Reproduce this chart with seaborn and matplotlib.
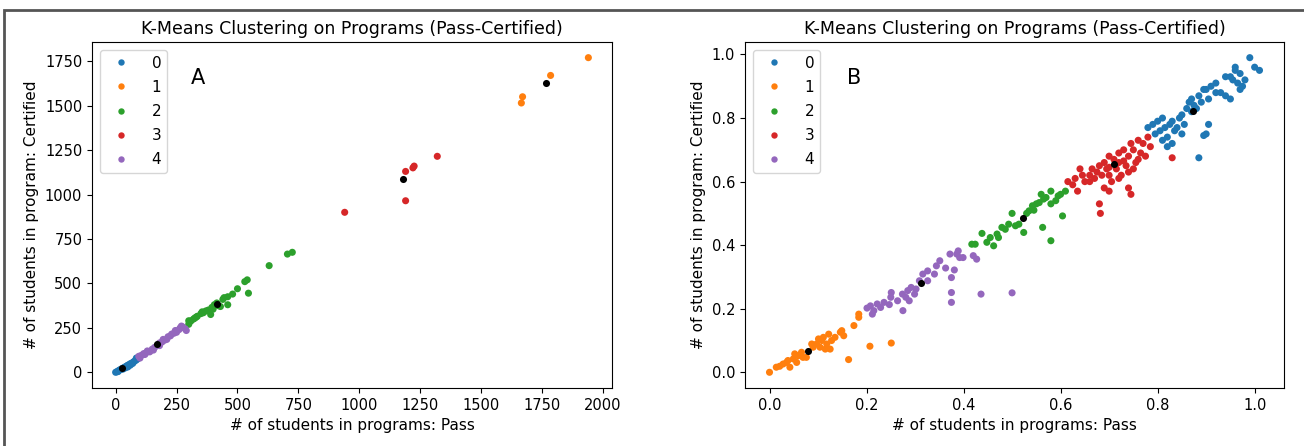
import matplotlib
matplotlib.use("Agg")
import matplotlib.pyplot as plt
import seaborn as sns
import pandas as pd
from matplotlib.patches import Rectangle

# ---------------- Panel A (raw counts) ----------------
a0_pass = [0, 5, 10, 15, 20, 25, 30, 35, 40, 45, 50, 55, 60, 65, 70, 75, 80, 85, 90, 40, 60, 70, 50, 30, 85, 10]
a0_cert = [0, 3, 7, 12, 15, 20, 22, 28, 30, 35, 40, 42, 48, 50, 55, 60, 65, 70, 75, 25, 40, 50, 30, 18, 80, 4]
a1_pass = [1665, 1670, 1785, 1940]
a1_cert = [1515, 1550, 1670, 1770]
a2_pass = [300, 305, 310, 320, 330, 335, 355, 370, 380, 390, 395, 405, 415, 420, 430, 440, 445, 460, 460, 480,
           500, 530, 540, 545, 630, 705, 725, 300, 325, 350, 400, 360]
a2_cert = [270, 285, 290, 300, 310, 315, 340, 345, 350, 325, 365, 380, 390, 375, 370, 410, 420, 380, 425, 440,
           470, 510, 520, 445, 600, 665, 675, 290, 305, 330, 355, 335]
a3_pass = [940, 1190, 1190, 1220, 1225, 1320]
a3_cert = [900, 1130, 965, 1150, 1160, 1215]
a4_pass = [95, 105, 115, 125, 130, 140, 150, 160, 170, 180, 190, 200, 210, 215, 225, 230, 240, 250, 260, 265,
           275, 285, 290, 270, 120, 100, 155, 195, 245, 180]
a4_cert = [90, 95, 105, 110, 120, 115, 130, 140, 150, 165, 170, 180, 185, 200, 205, 215, 220, 225, 240, 250,
           255, 245, 235, 260, 100, 80, 125, 185, 235, 150]
a_cent_pass = [25, 1765, 415, 1180, 170]
a_cent_cert = [22, 1625, 382, 1085, 158]

# ---------------- Panel B (normalised) ----------------
b0_pass = [0.78, 0.79, 0.795, 0.80, 0.805, 0.81, 0.815, 0.82, 0.82, 0.825, 0.83, 0.835, 0.84, 0.845, 0.85, 0.855,
           0.86, 0.865, 0.87, 0.875, 0.88, 0.885, 0.89, 0.895, 0.90, 0.905, 0.91, 0.92, 0.93, 0.94, 0.95, 0.955,
           0.96, 0.965, 0.97, 0.975, 0.98, 0.99, 1.00, 1.01, 0.95, 0.96, 0.885, 0.90, 0.905, 0.895, 0.85, 0.83,
           0.81, 0.87, 0.92, 0.97, 0.94]
b0_cert = [0.77, 0.78, 0.75, 0.79, 0.76, 0.80, 0.77, 0.74, 0.71, 0.78, 0.79, 0.76, 0.77, 0.80, 0.81, 0.78,
           0.83, 0.85, 0.86, 0.84, 0.83, 0.87, 0.85, 0.89, 0.89, 0.86, 0.90, 0.88, 0.88, 0.87, 0.86, 0.92,
           0.95, 0.91, 0.94, 0.90, 0.92, 0.99, 0.96, 0.95, 0.93, 0.96, 0.675, 0.75, 0.78, 0.745, 0.75, 0.72,
           0.73, 0.82, 0.91, 0.89, 0.93]
b1_pass = [0.0, 0.021, 0.028, 0.042, 0.038, 0.049, 0.059, 0.056, 0.066, 0.076, 0.09, 0.097, 0.101, 0.108, 0.115,
           0.118, 0.122, 0.125, 0.135, 0.146, 0.153, 0.163, 0.174, 0.184, 0.184, 0.207, 0.251, 0.014, 0.035,
           0.052, 0.069, 0.087, 0.104, 0.111, 0.128, 0.149]
b1_cert = [0.0, 0.019, 0.026, 0.016, 0.037, 0.042, 0.052, 0.031, 0.063, 0.047, 0.079, 0.089, 0.105, 0.10, 0.073,
           0.089, 0.12, 0.073, 0.11, 0.126, 0.115, 0.04, 0.147, 0.173, 0.183, 0.082, 0.092, 0.016, 0.031,
           0.058, 0.047, 0.089, 0.079, 0.11, 0.10, 0.131]
b2_pass = [0.417, 0.424, 0.438, 0.448, 0.455, 0.462, 0.469, 0.479, 0.486, 0.50, 0.507, 0.524, 0.535, 0.542, 0.563,
           0.58, 0.604, 0.556, 0.514, 0.472, 0.493, 0.56, 0.57, 0.58, 0.59, 0.60, 0.61, 0.58, 0.55, 0.545, 0.53,
           0.565, 0.595]
b2_cert = [0.403, 0.403, 0.437, 0.409, 0.424, 0.398, 0.435, 0.456, 0.45, 0.50, 0.461, 0.44, 0.508, 0.524, 0.456,
           0.414, 0.492, 0.534, 0.466, 0.424, 0.466, 0.56, 0.55, 0.57, 0.54, 0.56, 0.57, 0.53, 0.53, 0.51, 0.50,
           0.545, 0.555]
b3_pass = [0.615, 0.625, 0.63, 0.635, 0.645, 0.65, 0.66, 0.665, 0.67, 0.675, 0.68, 0.685, 0.69, 0.695, 0.70, 0.70,
           0.705, 0.71, 0.715, 0.72, 0.72, 0.725, 0.73, 0.735, 0.74, 0.745, 0.75, 0.755, 0.76, 0.765, 0.77, 0.775,
           0.78, 0.785, 0.69, 0.70, 0.74, 0.745, 0.68, 0.682, 0.74, 0.83, 0.66, 0.72, 0.75, 0.70, 0.73, 0.64, 0.76]
b3_cert = [0.60, 0.59, 0.61, 0.57, 0.62, 0.60, 0.62, 0.64, 0.61, 0.63, 0.65, 0.62, 0.66, 0.64, 0.68, 0.62,
           0.60, 0.67, 0.64, 0.69, 0.66, 0.62, 0.70, 0.65, 0.68, 0.72, 0.70, 0.66, 0.73, 0.69, 0.72, 0.68,
           0.74, 0.71, 0.58, 0.57, 0.58, 0.56, 0.53, 0.50, 0.63, 0.675, 0.60, 0.61, 0.64, 0.645, 0.665, 0.64, 0.67]
b4_pass = [0.201, 0.208, 0.215, 0.212, 0.222, 0.229, 0.236, 0.247, 0.251, 0.25, 0.264, 0.275, 0.274, 0.281, 0.285,
           0.288, 0.292, 0.302, 0.309, 0.316, 0.326, 0.34, 0.344, 0.351, 0.363, 0.372, 0.375, 0.381, 0.375, 0.375,
           0.386, 0.392, 0.399, 0.389, 0.42, 0.427, 0.436, 0.50, 0.299, 0.326]
b4_cert = [0.202, 0.209, 0.194, 0.183, 0.215, 0.204, 0.22, 0.213, 0.251, 0.236, 0.225, 0.194, 0.246, 0.236, 0.257,
           0.225, 0.267, 0.262, 0.288, 0.309, 0.319, 0.309, 0.335, 0.351, 0.328, 0.372, 0.298, 0.322, 0.251, 0.22,
           0.372, 0.361, 0.361, 0.382, 0.367, 0.356, 0.246, 0.25, 0.246, 0.288]
b_cent_pass = [0.873, 0.080, 0.523, 0.710, 0.313]
b_cent_cert = [0.823, 0.066, 0.487, 0.655, 0.281]

clusters = ["0", "1", "2", "3", "4"]
palette = sns.color_palette("tab10", 5)

def frame(groups):
    rows = []
    for lab, (xs, ys) in zip(clusters, groups):
        for x, y in zip(xs, ys):
            rows.append((x, y, lab))
    return pd.DataFrame(rows, columns=["pass", "cert", "cluster"])

dfA = frame([(a0_pass, a0_cert), (a1_pass, a1_cert), (a2_pass, a2_cert), (a3_pass, a3_cert), (a4_pass, a4_cert)])
dfB = frame([(b0_pass, b0_cert), (b1_pass, b1_cert), (b2_pass, b2_cert), (b3_pass, b3_cert), (b4_pass, b4_cert)])

fig = plt.figure(figsize=(13.04, 4.46), dpi=100)
axA = fig.add_axes([92 / 1304, 0.13, 520 / 1304, 0.776])
axB = fig.add_axes([745 / 1304, 0.13, 539 / 1304, 0.776])

for ax, df, cx, cy, tag in [(axA, dfA, a_cent_pass, a_cent_cert, "A"),
                             (axB, dfB, b_cent_pass, b_cent_cert, "B")]:
    sns.scatterplot(data=df, x="pass", y="cert", hue="cluster", hue_order=clusters,
                    palette=palette, s=26, linewidth=0, ax=ax)
    ax.scatter(cx, cy, color="black", s=26, linewidths=0, zorder=3)
    ax.set_title("K-Means Clustering on Programs (Pass-Certified)", fontsize=12.5)
    ax.set_xlabel("# of students in programs: Pass", fontsize=11)
    ax.set_ylabel("# of students in program: Certified", fontsize=11)
    ax.tick_params(labelsize=10.5)
    ax.legend(loc="upper left", title=None, fontsize=11, labelspacing=0.6,
              handletextpad=1.0, markerscale=0.9)
    ax.text(0.19, 0.895, tag, transform=ax.transAxes, fontsize=15, va="center")

axA.set_xticks([0, 250, 500, 750, 1000, 1250, 1500, 1750, 2000])
axA.set_yticks([0, 250, 500, 750, 1000, 1250, 1500, 1750])

fig.patches.append(Rectangle((4 / 1304, -0.01), 1.02, 1 - 10 / 446 + 0.01, transform=fig.transFigure,
                             fill=False, edgecolor="#555555", linewidth=2))

fig.savefig("out.png", dpi=100)
